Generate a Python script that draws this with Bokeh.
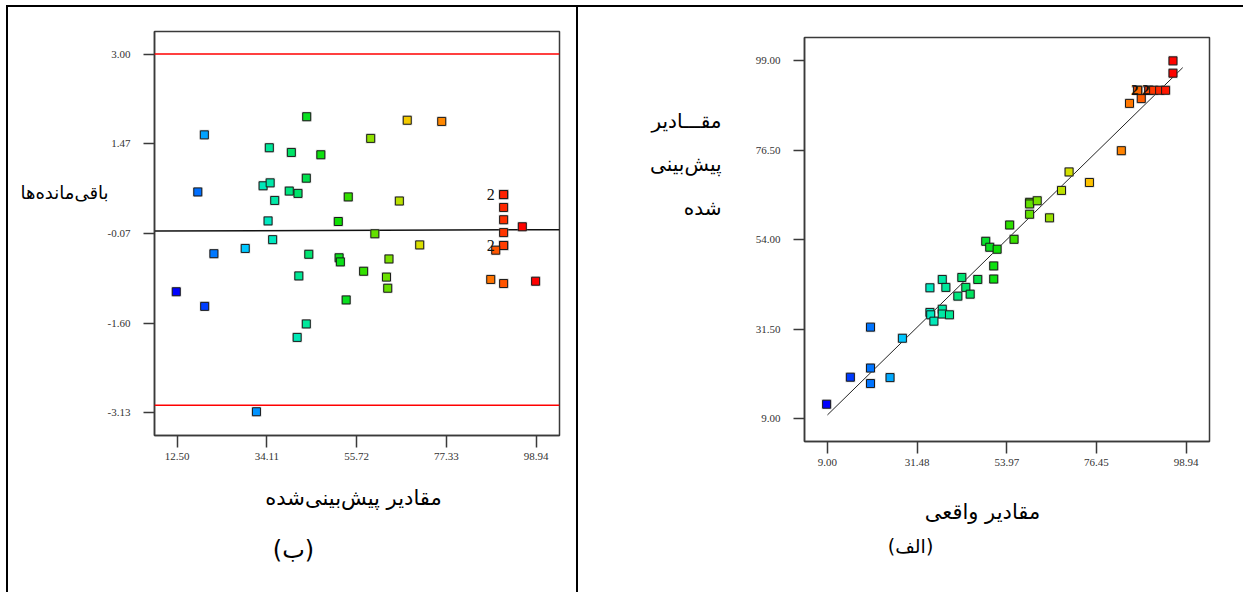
import json
import numpy as np
from bokeh.plotting import figure
from bokeh.layouts import row, column
from bokeh.models import (FixedTicker, NumeralTickFormatter, Span, LinearAxis,
                          CustomJSTickFormatter, Div, Spacer)
from bokeh.core.properties import value
from bokeh.embed import file_html
from bokeh.resources import INLINE

# ---------------- data: left panel (ب) residuals vs predicted ----------------
res_pred = [19.06, 17.48, 21.36, 12.3, 19.14, 28.9, 31.6, 34.7, 33.2, 34.9,
            36.0, 34.4, 35.5, 40.0, 39.5, 41.6, 43.6, 43.7, 47.1, 44.2,
            41.8, 41.4, 43.6, 51.3, 53.7, 51.5, 51.8, 53.2, 59.1, 60.1,
            57.4, 63.5, 62.9, 63.2, 66.0, 67.9, 70.9, 76.2, 91.1, 91.1,
            91.1, 91.1, 91.1, 91.1, 91.1, 89.2, 95.6, 88.0, 91.1, 98.8]
res_val = [1.62, 0.645, -0.41, -1.06, -1.31, -0.32, -3.11, 1.40, 0.75, 0.80,
           0.50, 0.15, -0.17, 1.32, 0.66, 0.62, 0.88, 1.93, 1.28, -0.42,
           -0.79, -1.84, -1.61, 0.14, 0.56, -0.48, -0.55, -1.20, 1.56, -0.07,
           -0.71, -0.50, -0.81, -1.00, 0.49, 1.87, -0.26, 1.85, 0.60, 0.60,
           0.38, 0.17, -0.05, -0.27, -0.27, -0.35, 0.05, -0.85, -0.92, -0.88]
res_dup_x = [91.1, 91.1]
res_dup_y = [0.60, -0.27]
res_dup_text = ["2", "2"]
limit_y = [3.00, -3.00]
zero_line_x = [7.06, 104.55]
zero_line_y = [-0.022, 0.0]
left_xticks = [12.50, 34.11, 55.72, 77.33, 98.94]
left_yticks = [-3.13, -1.60, -0.07, 1.47, 3.00]

# ---------------- data: right panel (الف) predicted vs actual ----------------
act = [95.65, 95.65, 86.8, 86.8, 89.6, 89.6, 90.8, 92.3, 93.8, 87.7,
       84.75, 82.7, 69.6, 74.7, 67.7, 59.7, 59.7, 61.6, 59.7, 64.7,
       54.7, 55.8, 48.7, 49.7, 51.55, 50.7, 50.7, 46.7, 42.7, 37.8,
       34.7, 38.7, 43.7, 41.7, 44.8, 34.7, 34.9, 37.8, 37.8, 39.6,
       35.7, 19.8, 27.8, 19.8, 14.75, 24.7, 19.8, 8.8]
pred = [99.0, 95.9, 91.6, 91.6, 91.6, 91.6, 91.6, 91.6, 91.6, 89.5,
        88.3, 76.4, 71.05, 68.4, 66.4, 63.4, 63.0, 63.8, 60.4, 59.5,
        57.7, 54.1, 53.6, 52.1, 51.6, 47.4, 44.1, 44.0, 44.5, 44.0,
        41.9, 42.0, 42.0, 39.8, 40.3, 35.7, 35.1, 36.5, 35.3, 35.1,
        33.5, 32.0, 29.2, 21.7, 19.4, 19.3, 17.8, 12.6]
act_dup_x = [86.8, 89.6]
act_dup_y = [91.6, 91.6]
act_dup_text = ["2", "2"]
fit_line_x = [9.0, 98.1]
fit_line_y = [9.9, 97.3]
right_xticks = [9.00, 31.48, 53.97, 76.45, 98.94]
right_yticks = [9.00, 31.50, 54.00, 76.50, 99.00]

# ---------------- texts ----------------
left_ylabel = "باقی‌مانده‌ها"
left_xtitle = "مقادیر پیش‌بینی‌شده"
left_caption = "(ب)"
right_ylabel_lines = ["مقـــادیر", "پیش‌بینی", "شده"]
right_xtitle = "مقادیر واقعی"
right_caption = "(الف)"

# ---------------- colour scale (blue -> green -> red) ----------------
stops_v = [9, 17, 22, 28, 34, 40, 46, 52, 58, 64, 70, 75, 80, 86, 90, 96]
stops_c = ["#0000ff", "#0050ff", "#0090ff", "#00c8ff", "#00e8c8", "#00e890",
           "#00e050", "#10e000", "#50e000", "#90e000", "#d8e000", "#ffc000",
           "#ff9000", "#ff7000", "#ff4000", "#ff0000"]
_rgb = np.array([[int(c[i:i + 2], 16) for i in (1, 3, 5)] for c in stops_c], float)


def colour(v):
    r, g, b = (int(round(np.interp(v, stops_v, _rgb[:, k]))) for k in range(3))
    return "#%02x%02x%02x" % (r, g, b)


left_colours = [colour(x + 3.0 * y) for x, y in zip(res_pred, res_val)]
right_colours = [colour(x) for x in act]

FW, FH = 405, 404
H = 585
TICK_FONT = "Liberation Serif"
FA_FONT = "DejaVu Sans"


def style_axes(p, xt, yt):
    p.xgrid.visible = False
    p.ygrid.visible = False
    p.outline_line_color = "#3a3a3a"
    p.outline_line_width = 1.5
    p.background_fill_color = "white"
    p.border_fill_color = "white"
    p.xaxis.ticker = FixedTicker(ticks=xt)
    p.yaxis.ticker = FixedTicker(ticks=yt)
    for ax in (p.xaxis[0], p.yaxis[0]):
        ax.formatter = NumeralTickFormatter(format="0.00")
        ax.axis_line_color = "#3a3a3a"
        ax.axis_line_width = 1.5
        ax.major_tick_line_color = "#3a3a3a"
        ax.major_tick_line_width = 1.5
        ax.major_tick_in = 0
        ax.minor_tick_line_color = None
        ax.major_label_text_font = TICK_FONT
        ax.major_label_text_font_size = "11px"
        ax.major_label_text_color = "#333333"
    p.xaxis.major_tick_out = 12
    p.yaxis.major_tick_out = 11
    p.xaxis.major_label_standoff = 5
    p.yaxis.major_label_standoff = 13


def px_x(p, dx):
    """pixel offset from frame left -> data x"""
    return p.x_range.start + dx * (p.x_range.end - p.x_range.start) / FW


def px_y(p, dy):
    """pixel offset from frame top -> data y"""
    return p.y_range.end - dy * (p.y_range.end - p.y_range.start) / FH


def text_axis(p, side, ticks, labels, size, standoff):
    ax = LinearAxis(ticker=FixedTicker(ticks=ticks),
                    formatter=CustomJSTickFormatter(code="return %s[index];" % json.dumps(labels)),
                    axis_line_color=None, major_tick_line_color=None,
                    minor_tick_line_color=None, major_tick_in=0, major_tick_out=0,
                    major_label_text_font=FA_FONT, major_label_text_font_size=size,
                    major_label_text_color="black", major_label_standoff=standoff)
    p.add_layout(ax, side)


def squares(p, xs, ys, cols):
    p.scatter(xs, ys, marker="square", size=10, fill_color="#9a9a9a", fill_alpha=0.45,
              line_color=None)
    p.scatter(xs, ys, marker="square", size=8, fill_color=cols, line_color="#1a1a1a",
              line_width=1)


# ---------------- left panel ----------------
lp = figure(width=568, height=H, x_range=(7.06, 104.55), y_range=(-3.516, 3.386),
            output_backend="svg", toolbar_location=None, frame_align=False,
            min_border_left=146, min_border_right=17, min_border_top=24,
            min_border_bottom=H - 24 - FH)
style_axes(lp, left_xticks, left_yticks)
for v in limit_y:
    lp.add_layout(Span(location=v, dimension="width", line_color="#ff0000", line_width=1.5))
lp.line(zero_line_x, zero_line_y, line_color="#111111", line_width=1.5)
squares(lp, res_pred, res_val, left_colours)
lp.text(res_dup_x, res_dup_y, text=res_dup_text, text_font=value(TICK_FONT),
        text_font_size=value("16px"), text_align="right", text_baseline="middle",
        x_offset=-9, text_color="#111111")
text_axis(lp, "left", [px_y(lp, 161)], [left_ylabel], "18px", -4)
text_axis(lp, "below", [px_x(lp, 199)], [left_xtitle], "21px", 23)
text_axis(lp, "below", [px_x(lp, 139)], [left_caption], "24px", 23)

# ---------------- right panel ----------------
rp = figure(width=660, height=H, x_range=(3.25, 104.81), y_range=(3.22, 104.88),
            output_backend="svg", toolbar_location=None, frame_align=False,
            min_border_left=226, min_border_right=29, min_border_top=30,
            min_border_bottom=H - 30 - FH)
style_axes(rp, right_xticks, right_yticks)
rp.line(fit_line_x, fit_line_y, line_color="#222222", line_width=1)
squares(rp, act, pred, right_colours)
rp.text(act_dup_x, act_dup_y, text=act_dup_text, text_font=value(TICK_FONT),
        text_font_size=value("15px"), text_font_style="bold", text_align="center",
        text_baseline="middle", x_offset=-3, text_color="#111111")
text_axis(rp, "left", [px_y(rp, 170), px_y(rp, 126), px_y(rp, 83)],
          right_ylabel_lines[::-1], "20px", 31)
text_axis(rp, "below", [px_x(rp, 178)], [right_xtitle], "21px", 31)
text_axis(rp, "below", [px_x(rp, 106)], [right_caption], "19px", 8)

# ---------------- frame lines of the figure table ----------------
black = {"background-color": "#000000"}
top_line = Div(width=1237, height=2, styles=black, margin=0)
left_line = Div(width=2, height=H, styles=black, margin=0)
mid_line = Div(width=2, height=H, styles=black, margin=0)

page = column(Spacer(height=5, margin=0),
              row(Spacer(width=6, margin=0),
                  column(top_line, row(left_line, lp, mid_line, rp))))
open("out.html", "w").write(file_html(page, INLINE))
